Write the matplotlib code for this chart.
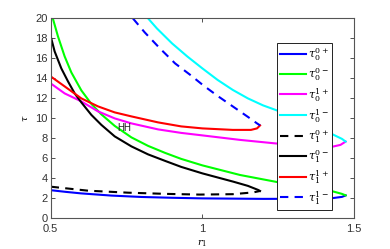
import numpy as np
import matplotlib.pyplot as plt

plt.rcParams['font.family'] = ['Liberation Sans', 'DejaVu Sans']
plt.rcParams['mathtext.fontset'] = 'dejavuserif'

# curves (r1, tau)
r_00p = [0.5, 0.55, 0.6, 0.7, 0.8, 0.9, 1.0, 1.2, 1.35, 1.43, 1.46, 1.472]
t_00p = [2.82, 2.65, 2.5, 2.28, 2.14, 2.06, 2.0, 1.95, 1.96, 2.03, 2.15, 2.3]

r_00m = [0.507, 0.524, 0.546, 0.568, 0.601, 0.634, 0.667, 0.711, 0.766, 0.821, 0.877,
         0.93, 1.0, 1.124, 1.24, 1.34, 1.426, 1.46, 1.472]
t_00m = [20.0, 18.2, 16.2, 14.6, 12.8, 11.45, 10.4, 9.25, 8.1, 7.25, 6.55,
         5.95, 5.3, 4.34, 3.67, 3.1, 2.73, 2.45, 2.3]

r_01p = [0.5, 0.546, 0.601, 0.656, 0.711, 0.766, 0.854, 0.93, 1.0, 1.124, 1.24, 1.35,
         1.43, 1.455, 1.472]
t_01p = [13.5, 12.5, 11.7, 10.7, 10.0, 9.5, 8.9, 8.55, 8.3, 7.85, 7.5, 7.25,
         7.18, 7.35, 7.68]

r_01m = [0.821, 0.85, 0.9, 0.95, 1.0, 1.05, 1.1, 1.15, 1.2, 1.25, 1.35, 1.426, 1.46, 1.472]
t_01m = [20.0, 19.0, 17.5, 16.2, 15.0, 13.85, 12.85, 12.0, 11.3, 10.75, 9.6, 8.45, 7.95, 7.68]

r_10p = [0.5, 0.623, 0.755, 0.88, 0.99, 1.1, 1.168, 1.19]
t_10p = [3.17, 2.77, 2.57, 2.45, 2.38, 2.42, 2.6, 2.74]

r_10m = [0.5, 0.513, 0.535, 0.557, 0.579, 0.601, 0.634, 0.667, 0.711, 0.766, 0.821,
         0.877, 0.93, 1.0, 1.102, 1.15, 1.184, 1.19]
t_10m = [18.2, 16.7, 15.0, 13.7, 12.5, 11.6, 10.35, 9.35, 8.2, 7.2, 6.4,
         5.75, 5.15, 4.5, 3.67, 3.25, 2.84, 2.74]

r_11p = [0.5, 0.546, 0.601, 0.656, 0.711, 0.766, 0.854, 0.93, 1.0, 1.1, 1.16, 1.18, 1.19]
t_11p = [14.2, 13.2, 12.0, 11.2, 10.6, 10.2, 9.6, 9.2, 9.0, 8.85, 8.85, 9.0, 9.3]

r_11m = [0.771, 0.81, 0.86, 0.91, 0.96, 1.003, 1.05, 1.1, 1.15, 1.18, 1.19]
t_11m = [20.0, 18.6, 17.0, 15.5, 14.35, 13.3, 12.25, 11.2, 10.15, 9.5, 9.3]

hh_r, hh_t = 0.742, 9.0

fig = plt.figure(figsize=(3.9, 2.49), dpi=100)
ax = fig.add_axes([0.130, 0.123, 0.778, 0.803])

lw = 1.5
dash = (0, (4, 3))
ax.plot(r_00p, t_00p, color='#0000ff', lw=lw, label=r'$\tau_0^{0+}$')
ax.plot(r_00m, t_00m, color='#00ff00', lw=lw, label=r'$\tau_0^{0-}$')
ax.plot(r_01p, t_01p, color='#ff00ff', lw=lw, label=r'$\tau_0^{1+}$')
ax.plot(r_01m, t_01m, color='#00ffff', lw=lw, label=r'$\tau_0^{1-}$')
ax.plot(r_10p, t_10p, color='black', lw=lw, ls=dash, label=r'$\tau_1^{0+}$')
ax.plot(r_10m, t_10m, color='black', lw=lw, label=r'$\tau_1^{0-}$')
ax.plot(r_11p, t_11p, color='#ff0000', lw=lw, label=r'$\tau_1^{1+}$')
ax.plot(r_11m, t_11m, color='#0000ff', lw=lw, ls=dash, label=r'$\tau_1^{1-}$')

ax.text(hh_r, hh_t, 'HH', fontsize=7, ha='center', va='center', color='#222222')

ax.set_xlim(0.5, 1.5)
ax.set_ylim(0, 20)
ax.set_xticks([0.5, 1, 1.5])
ax.set_xticklabels(['0.5', '1', '1.5'])
ax.set_yticks(range(0, 21, 2))
ax.tick_params(direction='in', length=3, width=0.6, labelsize=8, colors='#333333',
               top=True, right=True)
ax.tick_params(axis='x', pad=4)
ax.tick_params(axis='y', pad=2)
for s in ax.spines.values():
    s.set_color('#555555')
    s.set_linewidth(0.8)

ax.set_xlabel(r'$r_1$', fontsize=7, labelpad=3)
ax.set_ylabel(r'$\tau$', fontsize=7, labelpad=4)

leg = ax.legend(loc='upper left', bbox_to_anchor=(0.746, 0.877), borderaxespad=0,
                fontsize=8, handlelength=2.4, handletextpad=0.15, labelspacing=0.3,
                borderpad=0.25, fancybox=False, framealpha=1, edgecolor='#222222')
leg.get_frame().set_linewidth(0.7)

fig.savefig('out.png', dpi=100)
